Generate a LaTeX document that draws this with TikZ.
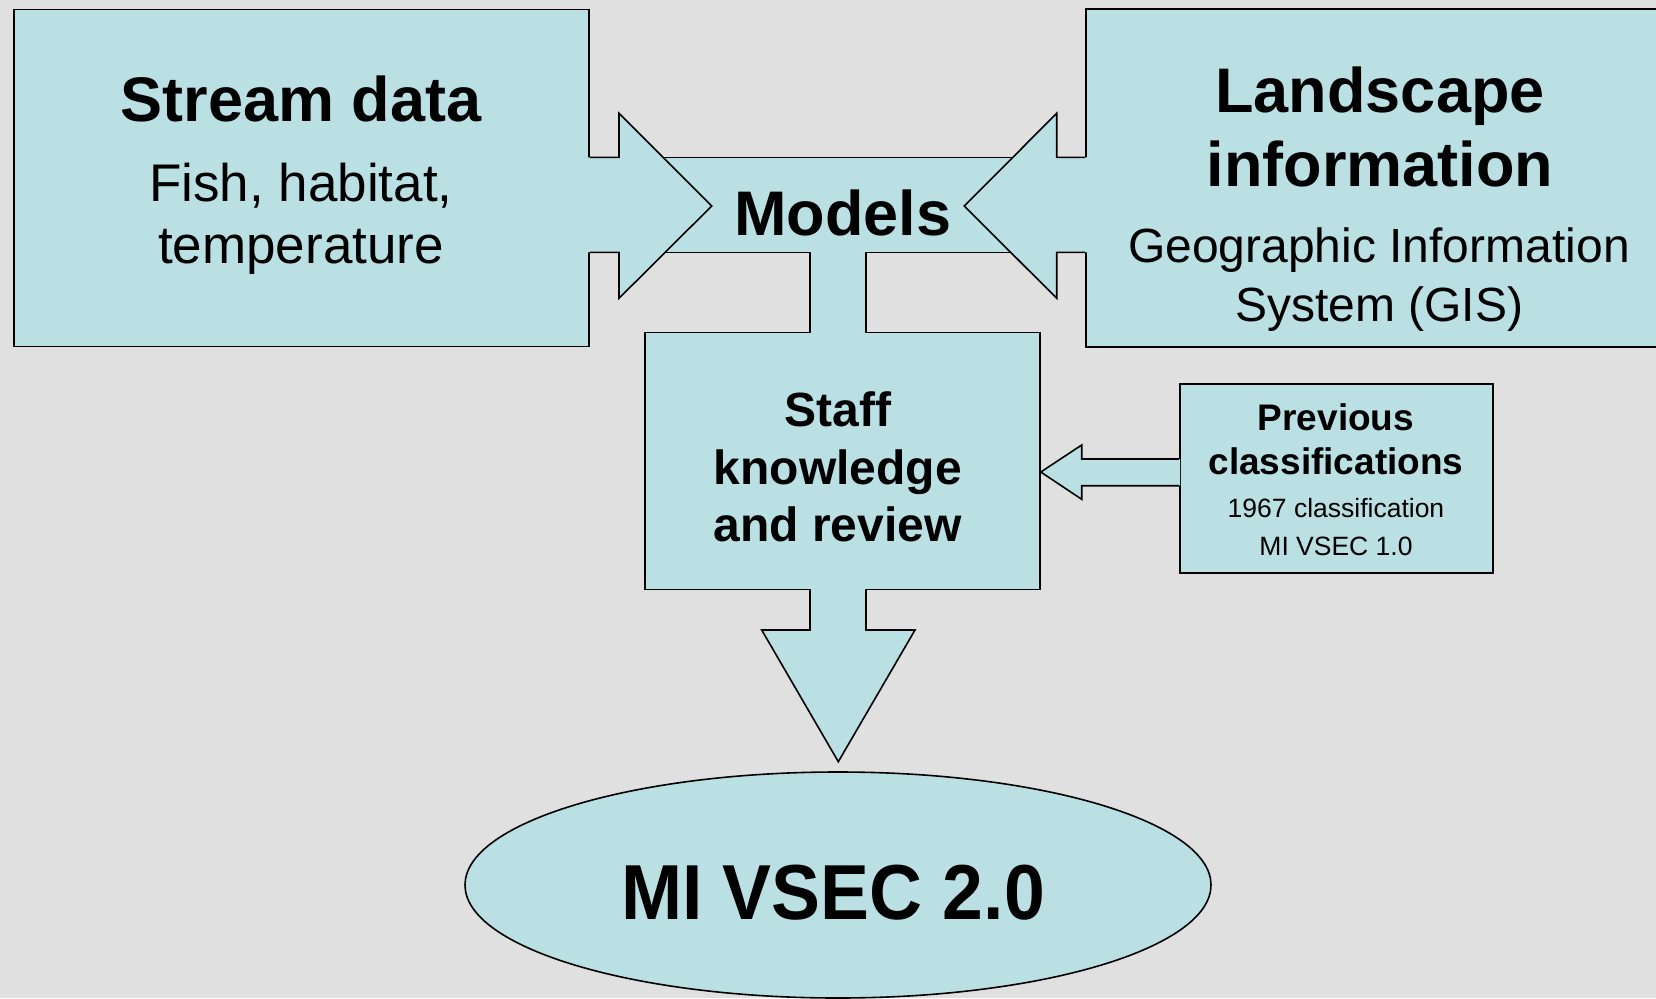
\documentclass[tikz,border=0pt]{standalone}
\usepackage{fontspec}
\setmainfont{Liberation Sans}
\usepackage{graphicx}
\usetikzlibrary{shapes.geometric,calc}
\definecolor{bgc}{RGB}{224,224,224}
\definecolor{boxc}{RGB}{186,224,228}
\tikzset{
  box/.style={draw=black, fill=boxc, line width=1.6pt, rectangle, inner sep=0pt},
  arrowfill/.style={fill=boxc},
  outline/.style={draw=black, line width=1.6pt, line join=miter},
  txt/.style={anchor=base, inner sep=0pt, text=black},
  bigb/.style={font=\fontsize{63}{63}\selectfont\bfseries},
  midr/.style={font=\fontsize{53}{53}\selectfont},
  gisr/.style={font=\fontsize{48}{48}\selectfont},
  staffb/.style={font=\fontsize{48}{48}\selectfont\bfseries},
  prevb/.style={font=\fontsize{37}{37}\selectfont\bfseries},
  smallr/.style={font=\fontsize{26.5}{26.5}\selectfont},
}
\begin{document}
\begin{tikzpicture}[x=1pt,y=-1pt]
\useasboundingbox (0,0) rectangle (1656,998);
\clip (0,0) rectangle (1656,998);
\fill[bgc] (0,0) rectangle (1656,998);

% boxes
\node[box, minimum width=575.3pt, minimum height=337pt] (stream) at (301.35,178) {};
\node[box, minimum width=614.3pt, minimum height=337.7pt] (land) at (1392.85,177.85) {};
\node[box, minimum width=395pt, minimum height=256.8pt] (staff) at (842.5,460.9) {};
\node[box, minimum width=312.7pt, minimum height=188.7pt] (prev) at (1336.35,478.35) {};
\node[box, ellipse, minimum width=746pt, minimum height=226pt] (vsec) at (838,885) {};

% Models band with stem into staff box
\fill[arrowfill] (619,157.3) rectangle (1057,252.3);
\fill[arrowfill] (811,250) rectangle ($(865,0 |- staff.north)+(0,0.9)$);
\draw[outline] (619,157.3) -- (1057,157.3);
\draw[outline] (619,252.3) -- (810,252.3) -- (810,0 |- staff.north);
\draw[outline] (866,0 |- staff.north) -- (866,252.3) -- (1057,252.3);

% left block arrow (stream -> models)
\fill[arrowfill] ($(stream.east |- 0,157.3)+(-2,0)$) -- (619,157.3) -- (619,113.3) -- (711.7,206)
  -- (619,298.3) -- (619,252.3) -- ($(stream.east |- 0,252.3)+(-2,0)$) -- cycle;
\draw[outline] (stream.east |- 0,157.3) -- (619,157.3) -- (619,113.3) -- (711.7,206)
  -- (619,298.3) -- (619,252.3) -- (stream.east |- 0,252.3);

% right block arrow (landscape -> models)
\fill[arrowfill] ($(land.west |- 0,157.3)+(2,0)$) -- (1056.7,157.3) -- (1056.7,113.3) -- (964.3,206)
  -- (1056.7,298.3) -- (1056.7,252.3) -- ($(land.west |- 0,252.3)+(2,0)$) -- cycle;
\draw[outline] (land.west |- 0,157.3) -- (1056.7,157.3) -- (1056.7,113.3) -- (964.3,206)
  -- (1056.7,298.3) -- (1056.7,252.3) -- (land.west |- 0,252.3);

% down block arrow (staff -> MI VSEC 2.0)
\fill[arrowfill] ($(811,0 |- staff.south)+(0,-0.9)$) -- (811,630) -- (761.7,630) -- (838.3,761.7)
  -- (915,630) -- (865,630) -- ($(865,0 |- staff.south)+(0,-0.9)$) -- cycle;
\draw[outline] (810,0 |- staff.south) -- (810,630) -- (761.7,630) -- (838.3,761.7)
  -- (915,630) -- (866,630) -- (866,0 |- staff.south);

% small block arrow (previous -> staff)
\fill[arrowfill] ($(prev.west |- 0,459)+(1,0)$) -- (1081.7,459) -- (1081.7,445) -- (staff.east |- 0,472)
  -- (1081.7,499.3) -- (1081.7,485.7) -- ($(prev.west |- 0,485.7)+(1,0)$) -- cycle;
\draw[outline] (prev.west |- 0,459) -- (1081.7,459) -- (1081.7,445) -- (staff.east |- 0,472)
  -- (1081.7,499.3) -- (1081.7,485.7) -- (prev.west |- 0,485.7);

% texts
\node[txt, bigb] (sd1) at (301,121.7) {Stream data};
\node[txt, midr] (sd2) at (301,201.7) {Fish, habitat,};
\node[txt, midr] (sd3) at (301,263.3) {temperature};

\node[txt, bigb] (mod) at (843,235.7) {Models};

\node[txt, bigb] (li1) at (1380,112.5) {Landscape};
\node[txt, bigb] (li2) at (1380,186.7) {information};
\node[txt, gisr] (li3) at (1379,262) {Geographic Information};
\node[txt, gisr] (li4) at (1379,321.7) {System (GIS)};

\node[txt, staffb] (sk1) at (837.7,426.7) {Staff};
\node[txt, staffb] (sk2) at (837.7,484.3) {knowledge};
\node[txt, staffb] (sk3) at (837.7,541) {and review};

\node[txt, prevb] (pc1) at (1336,430) {Previous};
\node[txt, prevb] (pc2) at (1336,474) {classifications};
\node[txt, smallr] (pc3) at (1336,517.3) {1967 classification};
\node[txt, smallr] (pc4) at (1336,555.7) {MI VSEC 1.0};

\node[txt, font=\fontsize{78}{78}\selectfont\bfseries] (mv) at (833,919.3) {\scalebox{0.94}[1]{MI VSEC 2.0}};
\end{tikzpicture}
\end{document}
